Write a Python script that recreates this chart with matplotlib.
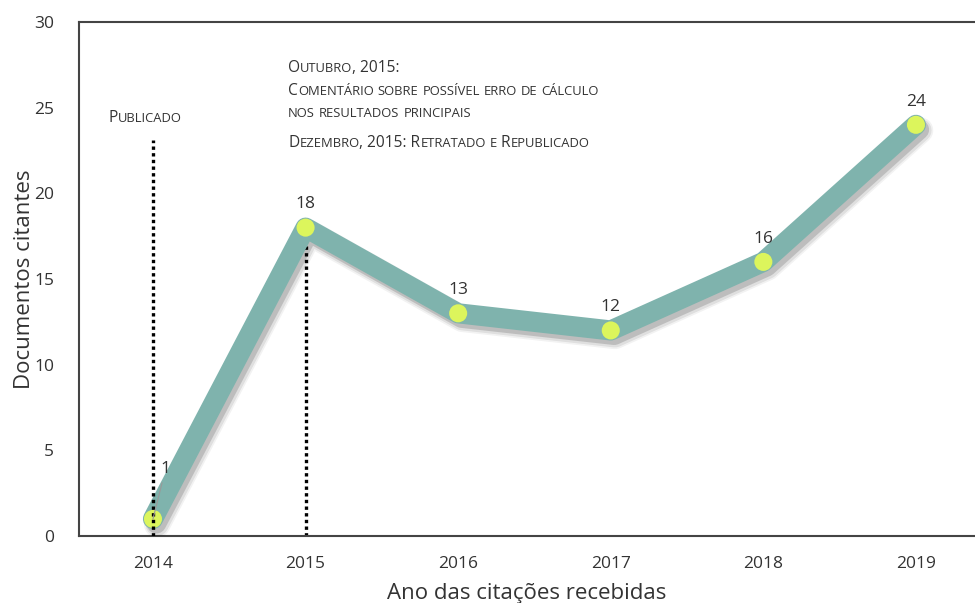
import matplotlib
matplotlib.use("Agg")
import matplotlib.pyplot as plt
import matplotlib.patheffects as pe
from matplotlib.offsetbox import TextArea, HPacker, AnnotationBbox

plt.rcParams["font.family"] = ["Open Sans", "DejaVu Sans"]

# data
years = [2014, 2015, 2016, 2017, 2018, 2019]
citing_docs = [1, 18, 13, 12, 16, 24]
notes = [
    "Outubro, 2015:",
    "Comentário sobre possível erro de cálculo",
    "nos resultados principais",
    "Dezembro, 2015: Retratado e Republicado",
]
note_y = [27.3, 26.0, 24.7, 22.95]

line_color = "#7fb3ad"
dot_color = "#dcf55c"
text_color = "#333333"
spine_color = "#444444"


def small_caps(text, big=11.2, small=9.4, color=text_color):
    # fake small caps: lowercase letters are drawn as smaller capitals
    runs = []
    for ch in text:
        size = small if ch.islower() else big
        if runs and runs[-1][1] == size:
            runs[-1][0] += ch.upper()
        else:
            runs.append([ch.upper(), size])
    boxes = [TextArea(t, textprops=dict(fontsize=s, color=color)) for t, s in runs]
    return HPacker(children=boxes, pad=0, sep=0, align="baseline")


# soft shadow made of a few layers
soft_shadow = [
    pe.SimpleLineShadow(offset=(3, -4), shadow_color="black", alpha=0.05, linewidth=19),
    pe.SimpleLineShadow(offset=(3, -4), shadow_color="black", alpha=0.08, linewidth=16.5),
    pe.SimpleLineShadow(offset=(2.5, -3.5), shadow_color="black", alpha=0.15, linewidth=14),
    pe.Normal(),
]

fig = plt.figure(figsize=(9.75, 6.03), dpi=100)
ax = fig.add_axes([0.081, 0.111, 0.919, 0.8525])

ax.plot(years, citing_docs, color=line_color, lw=14.5, solid_capstyle="round",
        solid_joinstyle="round", zorder=3, path_effects=soft_shadow)
ax.plot(years, citing_docs, "o", ms=13, color=dot_color, mew=0, zorder=4,
        path_effects=[pe.SimpleLineShadow(offset=(1.5, -2), shadow_color="black", alpha=0.25),
                      pe.Normal()])

# dotted reference lines
ax.plot([2014, 2014], [0, 23.1], color="black", lw=2.4, ls=(0, (1, 1)), zorder=5)
ax.plot([2015, 2015], [0, 18], color="black", lw=2.4, ls=(0, (1, 1)), zorder=2)

# value labels
for x, v in zip(years[1:], citing_docs[1:]):
    ax.annotate(str(v), (x, v), xytext=(0, 11), textcoords="offset points",
                ha="center", va="bottom", fontsize=12.5, color=text_color, zorder=6)
ax.annotate(str(citing_docs[0]), (years[0], citing_docs[0]), xytext=(9, 30),
            textcoords="offset points", ha="center", va="bottom", fontsize=12.5,
            color=text_color, zorder=6,
            arrowprops=dict(arrowstyle="-", color="#999999", lw=0.8, shrinkA=2, shrinkB=0))

# annotations
ax.add_artist(AnnotationBbox(small_caps("Publicado"), (2013.71, 24.4), frameon=False,
                             box_alignment=(0, 0.5), pad=0))
for t, y in zip(notes, note_y):
    ax.add_artist(AnnotationBbox(small_caps(t), (2014.885, y), frameon=False,
                                 box_alignment=(0, 0.5), pad=0))

ax.set_xlim(2013.515, 2019.387)
ax.set_ylim(0, 30)
ax.set_xticks(years)
ax.set_yticks(range(0, 31, 5))
ax.tick_params(length=0, labelsize=12.5, labelcolor=text_color, pad=14)
ax.tick_params(axis="y", pad=18)
ax.spines["right"].set_visible(False)
for s in ["left", "top", "bottom"]:
    ax.spines[s].set_color(spine_color)
    ax.spines[s].set_linewidth(1.5)

ax.set_xlabel("Ano das citações recebidas", fontsize=16, color=text_color, labelpad=8)
ax.set_ylabel("Documentos citantes", fontsize=16, color=text_color, labelpad=-1)

fig.savefig("out.png", dpi=100)
